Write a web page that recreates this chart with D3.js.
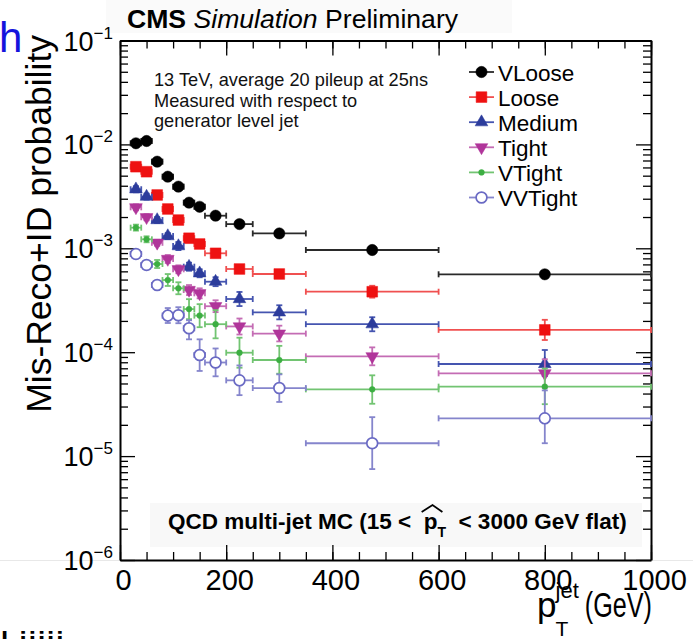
<!DOCTYPE html>
<html><head><meta charset="utf-8">
<script src="https://cdn.jsdelivr.net/npm/d3@7"></script>
<style>
body{margin:0;background:#fff}
text{font-family:"Liberation Sans",Arial,Helvetica,sans-serif;white-space:pre}
</style>
</head><body>
<svg id="c" width="693" height="639"></svg>
<script>
// ---------- data ----------
const seriesNames = ["VLoose","Loose","Medium","Tight","VTight","VVTight"];
const binEdges = [20,40,60,80,100,120,140,160,200,250,350,600,1000];

const vlooseVal = [1.025e-2,1.078e-2,6.82e-3,4.89e-3,3.92e-3,2.75e-3,2.51e-3,2.06e-3,1.71e-3,1.39e-3,9.63e-4,5.62e-4];
const vlooseErrHi = [4.6e-4,4.9e-4,3.1e-4,2.2e-4,1.8e-4,1.2e-4,1.1e-4,0.9e-4,0.8e-4,0.6e-4,0.66e-4,0.39e-4];
const vlooseErrLo = [4.4e-4,4.6e-4,2.9e-4,2.1e-4,1.7e-4,1.2e-4,1.1e-4,0.9e-4,0.7e-4,0.6e-4,0.62e-4,0.36e-4];

const looseVal = [6.10e-3,5.46e-3,3.26e-3,2.39e-3,1.87e-3,1.25e-3,1.10e-3,8.95e-4,6.32e-4,5.66e-4,3.82e-4,1.64e-4];
const looseErrHi = [2.7e-4,2.5e-4,1.5e-4,1.1e-4,1.3e-4,0.86e-4,0.76e-4,0.62e-4,0.59e-4,0.53e-4,0.54e-4,0.41e-4];
const looseErrLo = [2.6e-4,2.3e-4,1.4e-4,1.0e-4,1.2e-4,0.8e-4,0.7e-4,0.57e-4,0.54e-4,0.48e-4,0.47e-4,0.33e-4];

const mediumVal = [3.70e-3,3.14e-3,1.87e-3,1.31e-3,1.05e-3,6.65e-4,5.75e-4,4.77e-4,3.25e-4,2.42e-4,1.86e-4,7.70e-5];
const mediumErrHi = [2.6e-4,2.2e-4,1.3e-4,0.9e-4,0.98e-4,0.62e-4,0.53e-4,0.5e-4,0.55e-4,0.41e-4,0.31e-4,2.8e-5];
const mediumErrLo = [2.4e-4,2.0e-4,1.2e-4,0.84e-4,0.89e-4,0.57e-4,0.49e-4,0.45e-4,0.47e-4,0.35e-4,0.27e-4,1.8e-5];

const tightVal = [2.48e-3,1.99e-3,1.13e-3,7.89e-4,6.28e-4,3.97e-4,3.69e-4,2.77e-4,1.77e-4,1.51e-4,9.13e-5,6.26e-5];
const tightErrHi = [1.7e-4,1.4e-4,0.78e-4,0.73e-4,0.58e-4,0.46e-4,0.43e-4,0.39e-4,0.34e-4,0.29e-4,2.0e-5,2.3e-5];
const tightErrLo = [1.6e-4,1.3e-4,0.72e-4,0.67e-4,0.53e-4,0.42e-4,0.39e-4,0.34e-4,0.29e-4,0.24e-4,1.65e-5,1.7e-5];

const vtightVal = [1.58e-3,1.22e-3,7.06e-4,4.95e-4,4.12e-4,2.60e-4,2.25e-4,1.86e-4,9.89e-5,8.41e-5,4.39e-5,4.66e-5];
const vtightErrHi = [1.1e-4,0.84e-4,0.66e-4,0.70e-4,0.59e-4,0.64e-4,0.65e-4,0.68e-4,3.9e-5,3.1e-5,1.6e-5,2.3e-5];
const vtightErrLo = [1.0e-4,0.78e-4,0.6e-4,0.61e-4,0.51e-4,0.52e-4,0.51e-4,0.50e-4,2.8e-5,2.2e-5,1.2e-5,1.5e-5];

const vvtightVal = [8.81e-4,6.91e-4,4.43e-4,2.25e-4,2.27e-4,1.70e-4,9.40e-5,7.96e-5,5.36e-5,4.52e-5,1.33e-5,2.31e-5];
const vvtightErrHi = [0.82e-4,0.64e-4,0.41e-4,0.41e-4,0.44e-4,0.33e-4,3.9e-5,2.9e-5,2.1e-5,1.6e-5,1.04e-5,1.98e-5];
const vvtightErrLo = [0.75e-4,0.59e-4,0.38e-4,0.34e-4,0.37e-4,0.37e-4,2.8e-5,2.1e-5,1.5e-5,1.2e-5,0.58e-5,0.98e-5];

const xTickValues = [0,200,400,600,800,1000];
const yDecades = [1e-1,1e-2,1e-3,1e-4,1e-5,1e-6];
const yDecadeExponents = ["\u22121","\u22122","\u22123","\u22124","\u22125","\u22126"];
const annotationLines = ["13 TeV, average 20 pileup at 25ns","Measured with respect to","generator level jet"];

// ---------- styles ----------
const styles = [
  {marker:"#000000", line:"#2a2a2a", shape:"circle", fill:"#000000"},
  {marker:"#ee1111", line:"#f05050", shape:"square", fill:"#ee1111"},
  {marker:"#2c3c9c", line:"#4555b0", shape:"tri", fill:"#2c3c9c"},
  {marker:"#b0359a", line:"#c46cb4", shape:"tridown", fill:"#b0359a"},
  {marker:"#3cae42", line:"#72c472", shape:"dot", fill:"#3cae42"},
  {marker:"#6a6ac4", line:"#8585cc", shape:"open", fill:"#ffffff"}
];
const seriesData = [
  [vlooseVal,vlooseErrLo,vlooseErrHi],
  [looseVal,looseErrLo,looseErrHi],
  [mediumVal,mediumErrLo,mediumErrHi],
  [tightVal,tightErrLo,tightErrHi],
  [vtightVal,vtightErrLo,vtightErrHi],
  [vvtightVal,vvtightErrLo,vvtightErrHi]
];

const svg = d3.select("#c");
const x = d3.scaleLinear().domain([0,1000]).range([120,651]);
const y = d3.scaleLog().domain([1e-6,1e-1]).range([560,40.5]);

// faint slide artefacts / boxes
svg.append("rect").attr("x",106).attr("y",0).attr("width",406).attr("height",33).attr("fill","#fafafa");
svg.append("rect").attr("x",150).attr("y",503).attr("width",492).attr("height",44).attr("fill","#f8f8f8");
svg.append("line").attr("x1",0).attr("x2",693).attr("y1",560.5).attr("y2",560.5).attr("stroke","#e8e8e8");

// ---------- axes ----------
function styleAxis(g){ g.selectAll("line").attr("stroke","#000").attr("stroke-width",1.3); g.select(".domain").attr("stroke","#000").attr("stroke-width",2); }
const xMinor = x.ticks(20);
const yMinor = y.ticks().filter(d => !yDecades.some(v => Math.abs(v-d)/v < 1e-6));

const gb = svg.append("g").attr("transform","translate(0,560)")
  .call(d3.axisBottom(x).tickValues(xTickValues).tickSize(-15).tickSizeOuter(0).tickPadding(9).tickFormat(d3.format("d")));
gb.call(styleAxis);
gb.selectAll("text").attr("font-size",29).attr("fill","#000").attr("font-family","Liberation Sans, Arial, sans-serif").attr("dx",3);
svg.append("g").attr("transform","translate(0,560)")
  .call(d3.axisBottom(x).tickValues(xMinor).tickSize(-8).tickSizeOuter(0).tickFormat(""))
  .call(g=>{g.select(".domain").remove(); g.selectAll("line").attr("stroke","#000").attr("stroke-width",1.3);});

svg.append("g").attr("transform","translate(0,40.5)")
  .call(d3.axisTop(x).tickValues(xTickValues).tickSize(-15).tickSizeOuter(0).tickFormat("")).call(styleAxis);
svg.append("g").attr("transform","translate(0,40.5)")
  .call(d3.axisTop(x).tickValues(xMinor).tickSize(-8).tickSizeOuter(0).tickFormat(""))
  .call(g=>{g.select(".domain").remove(); g.selectAll("line").attr("stroke","#000").attr("stroke-width",1.3);});

svg.append("g").attr("transform","translate(120,0)")
  .call(d3.axisLeft(y).tickValues(yDecades).tickSize(-15).tickSizeOuter(0).tickFormat("")).call(styleAxis);
svg.append("g").attr("transform","translate(120,0)")
  .call(d3.axisLeft(y).tickValues(yMinor).tickSize(-8).tickSizeOuter(0).tickFormat(""))
  .call(g=>{g.select(".domain").remove(); g.selectAll("line").attr("stroke","#000").attr("stroke-width",1.3);});
svg.append("g").attr("transform","translate(651,0)")
  .call(d3.axisRight(y).tickValues(yDecades).tickSize(-15).tickSizeOuter(0).tickFormat("")).call(styleAxis);
svg.append("g").attr("transform","translate(651,0)")
  .call(d3.axisRight(y).tickValues(yMinor).tickSize(-8).tickSizeOuter(0).tickFormat(""))
  .call(g=>{g.select(".domain").remove(); g.selectAll("line").attr("stroke","#000").attr("stroke-width",1.3);});

// y tick labels 10^-n
yDecades.forEach((d,i)=>{
  const t = svg.append("text").attr("x",113).attr("y",y(d)+10).attr("text-anchor","end").attr("font-size",27).attr("fill","#000");
  t.append("tspan").text("10");
  t.append("tspan").attr("dy",-12).attr("font-size",17).text(yDecadeExponents[i]);
});

// ---------- data marks ----------
const capH = 3;
function markerPath(shape){
  if(shape==="circle") return d3.symbol(d3.symbolCircle, 100)();
  if(shape==="square") return d3.symbol(d3.symbolSquare, 115)();
  if(shape==="tri") return d3.symbol(d3.symbolTriangle, 70)();
  if(shape==="tridown") return d3.symbol(d3.symbolTriangle, 70)();
  if(shape==="dot") return d3.symbol(d3.symbolCircle, 26)();
  if(shape==="open") return d3.symbol(d3.symbolCircle, 92)();
}
seriesData.forEach((sd,si)=>{
  const st = styles[si];
  const pts = sd[0].map((v,i)=>({v, lo:sd[1][i], hi:sd[2][i], x0:binEdges[i], x1:binEdges[i+1], xc:(binEdges[i]+binEdges[i+1])/2}));
  const g = svg.append("g").attr("stroke",st.line).attr("stroke-width",1.8).attr("fill","none");
  g.selectAll(".h").data(pts).join("line").attr("x1",d=>x(d.x0)).attr("x2",d=>x(d.x1)).attr("y1",d=>y(d.v)).attr("y2",d=>y(d.v));
  g.selectAll(".hc0").data(pts).join("line").attr("x1",d=>x(d.x0)).attr("x2",d=>x(d.x0)).attr("y1",d=>y(d.v)-capH).attr("y2",d=>y(d.v)+capH);
  g.selectAll(".hc1").data(pts).join("line").attr("x1",d=>x(d.x1)).attr("x2",d=>x(d.x1)).attr("y1",d=>y(d.v)-capH).attr("y2",d=>y(d.v)+capH);
  g.selectAll(".v").data(pts).join("line").attr("x1",d=>x(d.xc)).attr("x2",d=>x(d.xc)).attr("y1",d=>y(d.v-d.lo)).attr("y2",d=>y(d.v+d.hi));
  g.selectAll(".vc0").data(pts).join("line").attr("x1",d=>x(d.xc)-capH).attr("x2",d=>x(d.xc)+capH).attr("y1",d=>y(d.v-d.lo)).attr("y2",d=>y(d.v-d.lo));
  g.selectAll(".vc1").data(pts).join("line").attr("x1",d=>x(d.xc)-capH).attr("x2",d=>x(d.xc)+capH).attr("y1",d=>y(d.v+d.hi)).attr("y2",d=>y(d.v+d.hi));
  svg.append("g").selectAll("path").data(pts).join("path")
    .attr("d",markerPath(st.shape))
    .attr("transform",d=>`translate(${x(d.xc)},${y(d.v)})${st.shape==="tridown"?" rotate(180)":""}`)
    .attr("fill",st.fill).attr("stroke",st.marker).attr("stroke-width",st.shape==="open"?1.7:0.5);
});

// ---------- legend ----------
seriesNames.forEach((n,i)=>{
  const st = styles[i];
  const cy = 72 + i*25.1;
  svg.append("line").attr("x1",469).attr("x2",494).attr("y1",cy).attr("y2",cy).attr("stroke",st.line).attr("stroke-width",1.8);
  svg.append("path").attr("d",markerPath(st.shape)).attr("transform",`translate(481.5,${cy})${st.shape==="tridown"?" rotate(180)":""}`)
    .attr("fill",st.fill).attr("stroke",st.marker).attr("stroke-width",st.shape==="open"?1.7:0.5);
  svg.append("text").attr("x",498).attr("y",cy+8.5).attr("font-size",22.5).attr("fill","#000").text(n);
});

// ---------- texts ----------
annotationLines.forEach((s,i)=>{
  svg.append("text").attr("x",154).attr("y",86+i*20.5).attr("font-size",18.2).attr("fill","#111").text(s);
});

const hdr = svg.append("text").attr("x",127).attr("y",28).attr("font-size",26.6).attr("fill","#000");
hdr.append("tspan").attr("font-weight","bold").text("CMS ");
hdr.append("tspan").attr("font-style","italic").text("Simulation ");
hdr.append("tspan").text("Preliminary");

svg.append("text").attr("transform","translate(51,35) rotate(-90)").attr("text-anchor","end")
  .attr("font-size",35.5).attr("fill","#000").text("Mis-Reco+ID probability");

// QCD label with p-hat
(function(){
  const g = svg.append("g").attr("font-weight","bold").attr("fill","#000");
  let cx = 168; const by = 529;
  function piece(s, size, dy){ const t=g.append("text").attr("x",cx).attr("y",by+(dy||0)).attr("font-size",size).text(s); const w=t.node().getComputedTextLength(); const x0=cx; cx+=w; return {x0,w}; }
  piece("QCD multi-jet MC (15 <\u00a0\u00a0",22.5);
  const p = piece("p",22.5);
  piece("T",14,8);
  piece("\u00a0\u00a0< 3000 GeV flat)",22.5);
  g.append("path").attr("d",`M${p.x0-2},${by-17} L${p.x0+p.w/2+2},${by-24} L${p.x0+p.w+5},${by-17}`).attr("stroke","#000").attr("stroke-width",1.8).attr("fill","none");
})();

// x axis title p_T^jet (GeV)
(function(){
  const g = svg.append("g").attr("fill","#000");
  const sx = 0.72;
  const gev = g.append("text").attr("transform",`translate(652,617) scale(${sx},1)`).attr("text-anchor","end").attr("font-size",35).text("(GeV)");
  const wg = gev.node().getComputedTextLength()*sx;
  const jx = 652 - wg - 6;
  const jet = g.append("text").attr("x",jx).attr("y",598).attr("text-anchor","end").attr("font-size",22).text("jet");
  const wj = jet.node().getComputedTextLength();
  const px = jx - wj;
  g.append("text").attr("x",px).attr("y",636).attr("font-size",21).text("T");
  g.append("text").attr("x",px+1).attr("y",617).attr("text-anchor","end").attr("font-size",35).text("p");
})();

// slide artefacts at the edges
svg.append("text").attr("x",-1).attr("y",52).attr("font-size",42).attr("fill","#1414dc").text("h");
svg.append("text").attr("x",1).attr("y",650).attr("font-size",26).attr("font-weight","bold").attr("fill","#000").attr("letter-spacing",2).text("l iiiii");
</script>
</body></html>
